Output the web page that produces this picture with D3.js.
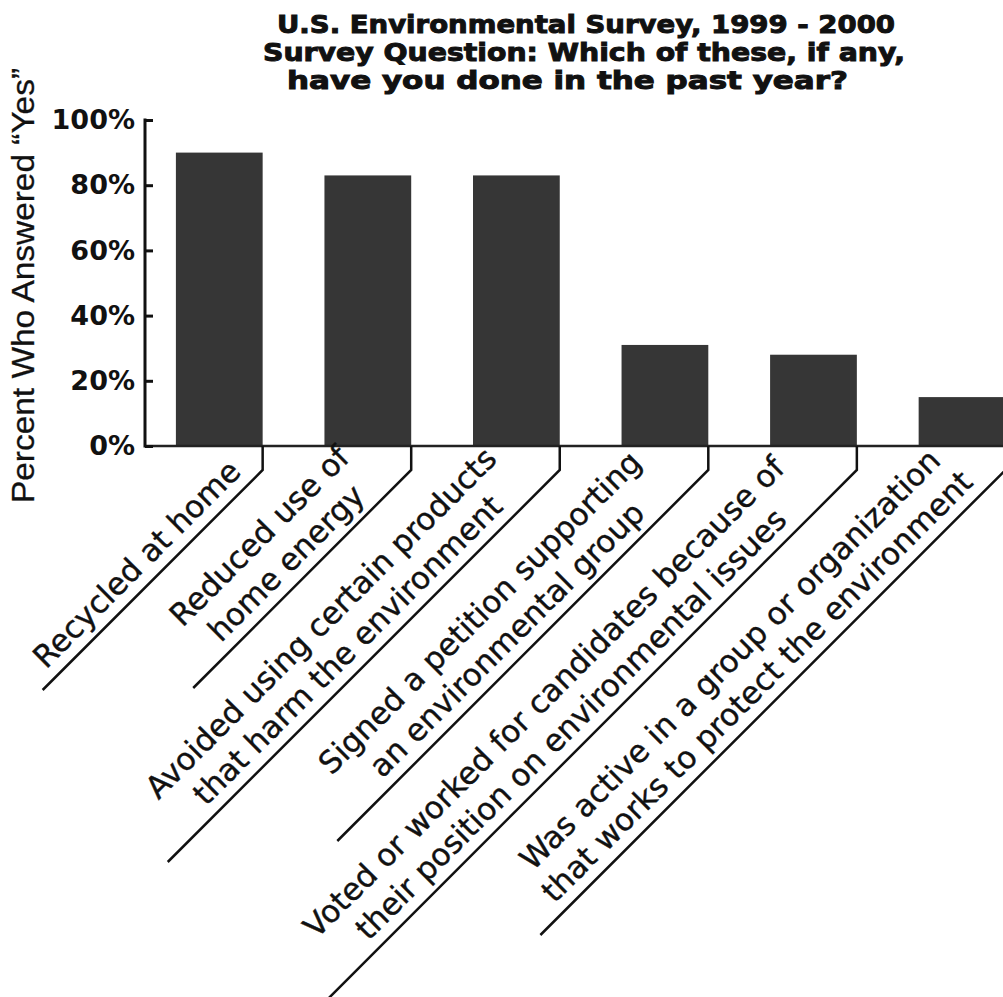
<!DOCTYPE html>
<html>
<head>
<meta charset="utf-8">
<script src="https://cdn.jsdelivr.net/npm/d3@7"></script>
<style>
  body { margin: 0; background: #fff; }
  svg { display: block; }
</style>
</head>
<body>
<svg width="1003" height="997"></svg>
<script>
var titleLines = [
  "U.S. Environmental Survey, 1999 - 2000",
  "Survey Question: Which of these, if any,",
  "have you done in the past year?"
];
var yLabel = "Percent Who Answered “Yes”";
var categories = ["recycled", "energy", "products", "petition", "voted", "active"];
var labelLines = [
  ["Recycled at home"],
  ["Reduced use of", "home energy"],
  ["Avoided using certain products", "that harm the environment"],
  ["Signed a petition supporting", "an environmental group"],
  ["Voted or worked for candidates because of", "their position on environmental issues"],
  ["Was active in a group or organization", "that works to protect the environment"]
];
var values = [90, 83, 83, 31, 28, 15];
var yTicks = [0, 20, 40, 60, 80, 100];

// layout
var svg = d3.select("svg"),
    width = +svg.attr("width"),
    height = +svg.attr("height");

var x0 = 145, base = 446, yTop = 120;
var leaderDx = [220, 218, 392, 371, 540, 465],
    kinkDrop = 24;

var x = d3.scaleBand()
    .domain(categories)
    .range([x0, x0 + 6 * 148.55])
    .paddingInner(0.416)
    .paddingOuter(0.208);

var y = d3.scaleLinear()
    .domain([0, 100])
    .range([base, yTop]);

// title
var titleX = [277, 263, 287], titleW = [618, 642, 561], titleY = [33, 61, 89];
svg.append("g").selectAll("text")
  .data(titleLines)
  .join("text")
    .attr("x", function(d, i) { return titleX[i]; })
    .attr("y", function(d, i) { return titleY[i]; })
    .attr("textLength", function(d, i) { return titleW[i]; })
    .attr("lengthAdjust", "spacingAndGlyphs")
    .style("font-family", "DejaVu Sans")
    .style("font-weight", "bold")
    .style("font-size", "25px")
    .attr("fill", "#111")
    .attr("stroke", "#111")
    .attr("stroke-width", 1)
    .text(function(d) { return d; });

// y label
svg.append("text")
    .attr("transform", "translate(34,503) rotate(-90)")
    .attr("textLength", 435)
    .attr("lengthAdjust", "spacingAndGlyphs")
    .style("font-family", "Liberation Sans")
    .style("font-size", "32px")
    .attr("fill", "#111")
    .attr("stroke", "#111")
    .attr("stroke-width", 0.3)
    .text(yLabel);

// bars
svg.append("g").selectAll("rect")
  .data(values)
  .join("rect")
    .attr("x", function(d, i) { return x(categories[i]); })
    .attr("y", function(d) { return y(d); })
    .attr("width", x.bandwidth())
    .attr("height", function(d) { return base - y(d); })
    .attr("fill", "#363636");

// baseline
svg.append("line")
    .attr("x1", x0).attr("x2", width)
    .attr("y1", base).attr("y2", base)
    .attr("stroke", "#222")
    .attr("stroke-width", 2.5);

// y axis
var yAxis = svg.append("g")
    .attr("transform", "translate(" + x0 + ",0)")
    .call(d3.axisLeft(y).tickValues(yTicks).tickFormat(function(d) { return d + "%"; })
      .tickSize(-8).tickPadding(10));
yAxis.select(".domain").remove();
yAxis.append("line")
    .attr("y1", yTop - 1.5).attr("y2", base + 1.5)
    .attr("stroke", "#111").attr("stroke-width", 3);
yAxis.selectAll(".tick line").attr("stroke", "#111").attr("stroke-width", 3);
yAxis.selectAll(".tick text")
    .style("font-family", "DejaVu Sans")
    .style("font-weight", "bold")
    .style("font-size", "27px")
    .attr("fill", "#111");

// leader lines and labels
var leaders = svg.append("g").selectAll("g")
  .data(categories)
  .join("g");

leaders.append("path")
    .attr("d", function(d, i) {
      var xr = x(d) + x.bandwidth(), yk = base + kinkDrop;
      return "M" + xr + "," + base + "V" + yk + "L" + (xr - leaderDx[i]) + "," + (yk + leaderDx[i]);
    })
    .attr("fill", "none")
    .attr("stroke", "#111")
    .attr("stroke-width", 2.5);

leaders.append("g")
    .attr("transform", function(d, i) {
      var xr = x(d) + x.bandwidth(), yk = base + kinkDrop;
      return "translate(" + (xr - leaderDx[i] / 2) + "," + (yk + leaderDx[i] / 2) + ") rotate(-45)";
    })
  .selectAll("text")
  .data(function(d, i) { return labelLines[i]; })
  .join("text")
    .attr("text-anchor", "middle")
    .attr("y", function(d, j, nodes) { return -12 - (nodes.length - 1 - j) * 38; })
    .style("font-family", "DejaVu Sans")
    .style("font-size", "31px")
    .attr("fill", "#111")
    .attr("stroke", "#111")
    .attr("stroke-width", 0.4)
    .text(function(d) { return d; });
</script>
</body>
</html>
